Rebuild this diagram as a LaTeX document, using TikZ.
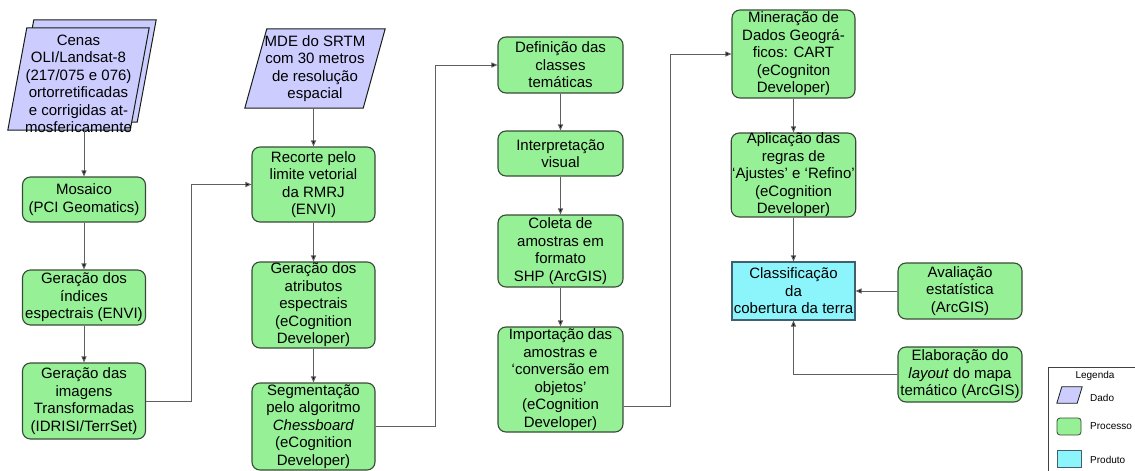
\documentclass[tikz,border=0pt]{standalone}
\usepackage{fontspec}
\setmainfont{Liberation Sans}
\usepackage{tikz}
\usetikzlibrary{
    arrows.meta, positioning, calc,
    backgrounds
}
\definecolor{colDado}{RGB}{204, 204, 255}
\definecolor{colProc}{RGB}{150, 240, 150}
\definecolor{colProd}{RGB}{140, 245, 252}
\definecolor{colBorda}{RGB}{55, 75, 55}
\definecolor{colBordaProd}{RGB}{65, 95, 110}
\definecolor{colLinha}{RGB}{95, 95, 95}

% paralelogramo de dado por tras de um no: no, meia inclinacao
\newcommand{\paralelo}[3][]{%
  \draw[dadoborda, #1] ($(#2.south west)+(-#3,0)$) -- ($(#2.south east)+(-#3,0)$)
    -- ($(#2.north east)+(#3,0)$) -- ($(#2.north west)+(#3,0)$) -- cycle;}

\begin{document}
\begin{tikzpicture}[x=1pt, y=-1pt,
    every node/.style={font=\fontsize{15}{17.5}\selectfont, align=center, inner xsep=1pt, inner ysep=0pt},
    processo/.style={draw=colBorda, line width=1.1pt, fill=colProc, rounded corners=8pt, minimum width=123pt},
    produto/.style={draw=colBordaProd, line width=1.1pt, fill=colProd, minimum width=123pt},
    dado/.style={minimum width=122pt},
    dadoborda/.style={draw=colBorda!40!black, line width=1pt, fill=colDado},
    seta/.style={draw=colLinha, line width=1pt, -{Triangle[length=6pt, width=5pt, fill=black]}},
    legtexto/.style={font=\fontsize{10}{12}\selectfont}
]
    \clip (0,0) rectangle (1135,471);

    % Coluna 1: cenas Landsat -> imagens transformadas
    \node[dado, minimum height=102pt] (cenasfundo) at (85.5,71) {};
    \node[dado, minimum height=102pt] (cenas) at (78.5,79) {};
    \node (cenastexto) at (78.5,84) {Cenas\\OLI/Landsat-8\\(217/075 e 076)\\ortorretificadas\\e corrigidas at-\\mosfericamente};
    \node[processo, minimum height=45pt] (mosaico) at (84,199.5) {Mosaico\\(PCI Geomatics)};
    \node[processo, minimum height=55pt] (indices) at (84,297.5) {Geração dos\\índices\\espectrais (ENVI)};
    \node[processo, minimum height=76pt] (imagens) at (84,401) {Geração das\\imagens\\Transformadas\\(IDRISI/TerrSet)};

    % Coluna 2: MDE -> segmentacao
    \node[dado, minimum width=118pt, minimum height=79pt] (mde) at (315,68.5) {MDE do SRTM\\com 30 metros\\de resolução\\espacial};
    \node[processo, minimum height=75pt] (recorte) at (313.5,184.5) {Recorte pelo\\limite vetorial\\da RMRJ\\(ENVI)};
    \node[processo, minimum height=86pt] (atributos) at (313.5,305) {Geração dos\\atributos\\espectrais\\(eCognition\\Developer)};
    \node[processo, minimum height=87pt] (segm) at (313.5,426.5) {Segmentação\\pelo algoritmo\\\textit{Chessboard}\\(eCognition\\Developer)};

    % Coluna 3: classes e amostras
    \node[processo, minimum width=125pt, minimum height=56pt] (definicao) at (560.5,65) {Definição das\\classes\\temáticas};
    \node[processo, minimum width=125pt, minimum height=45pt] (interp) at (560.5,153.5) {Interpretação\\visual};
    \node[processo, minimum width=125pt, minimum height=72pt] (coleta) at (560.5,251) {Coleta de\\amostras em\\formato\\SHP (ArcGIS)};
    \node[processo, minimum width=125pt, minimum height=105pt] (import) at (560.5,379.5) {Importação das\\amostras e\\‘conversão em\\objetos’\\(eCognition\\Developer)};

    % Coluna 4: mineracao -> classificacao
    \node[processo, minimum height=88pt] (mineracao) at (793.5,54) {Mineração de\\Dados Geográ-\\ficos: CART\\(eCogniton\\Developer)};
    \node[processo, minimum height=76pt] (aplicacao) at (793.5,175) {Aplicação das\\regras de\\‘Ajustes’ e ‘Refino’\\(eCognition\\Developer)};
    \node[produto, minimum height=58pt] (classif) at (793.5,291) {Classificação\\da\\cobertura da terra};

    % Coluna 5: avaliacao e layout
    \node[processo, minimum width=124pt, minimum height=56pt] (avaliacao) at (960,291) {Avaliação\\estatística\\(ArcGIS)};
    \node[processo, minimum width=124pt, minimum height=55pt] (elaboracao) at (960,374.5) {Elaboração do\\\textit{layout} do mapa\\temático (ArcGIS)};

    % Setas
    \draw[seta] (cenas.south -| mosaico.north) -- (mosaico.north);
    \draw[seta] (mosaico) -- (indices);
    \draw[seta] (indices) -- (imagens);
    \draw[seta] (imagens.east) -- ++(45,0) |- (recorte.west);
    \draw[seta] (mde.south -| recorte.north) -- (recorte.north);
    \draw[seta] (recorte) -- (atributos);
    \draw[seta] (atributos) -- (segm);
    \draw[seta] (segm.east) -- ++(60,0) |- (definicao.west);
    \draw[seta] (definicao) -- (interp);
    \draw[seta] (interp) -- (coleta);
    \draw[seta] (coleta) -- (import);
    \coordinate (impsaida) at ($(import.south east)!0.25!(import.north east)$);
    \draw[seta] (impsaida) -- ++(47,0) |- (mineracao.west);
    \draw[seta] (mineracao) -- (aplicacao);
    \draw[seta] (aplicacao) -- (classif);
    \draw[seta] (avaliacao) -- (classif);
    \draw[seta] (elaboracao.west) -| (classif.south);

    % Legenda
    \node[draw=black!75, line width=0.8pt, minimum width=100pt, minimum height=115pt, anchor=north west] (legenda) at (1048,367) {};
    \node[legtexto] (legtitulo) at (1095,376) {Legenda};
    \node[dado, minimum width=20pt, minimum height=16pt] (legdado) at (1069.5,395) {};
    \node[processo, rounded corners=3pt, minimum width=24pt, minimum height=17pt, line width=0.8pt] (legproc) at (1069,426.5) {};
    \node[produto, minimum width=24pt, minimum height=17pt, line width=0.8pt] (legprod) at (1069,458.5) {};
    \node[legtexto, anchor=west] (txtdado) at (1089,397.5) {Dado};
    \node[legtexto, anchor=west] (txtproc) at (1089,426) {Processo};
    \node[legtexto, anchor=west] (txtprod) at (1089,460) {Produto};

    % Paralelogramos dos dados (atras do texto)
    \begin{scope}[on background layer]
        \paralelo{cenasfundo}{9.5}
        \paralelo{cenas}{9.5}
        \paralelo{mde}{11}
        \paralelo[line width=0.8pt]{legdado}{2.5}
    \end{scope}
\end{tikzpicture}
\end{document}
